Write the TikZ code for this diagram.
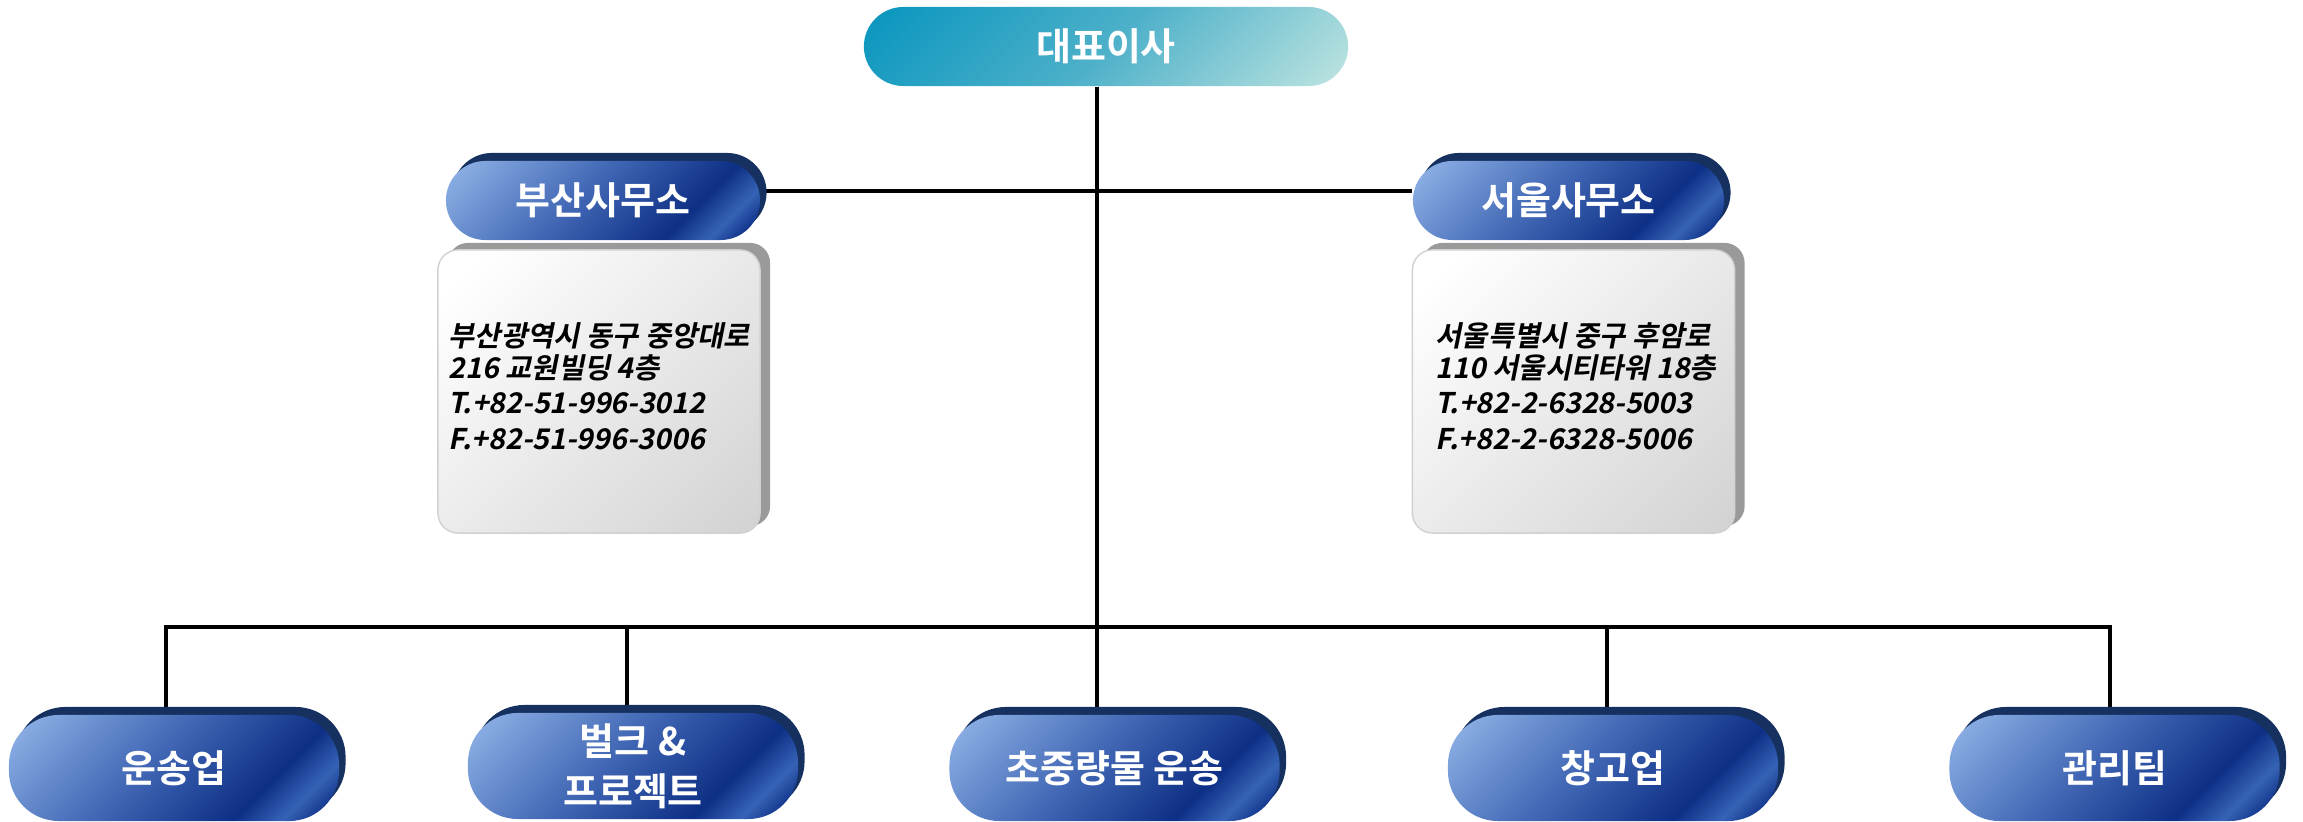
\documentclass[tikz,border=0pt]{standalone}
\usepackage{fontspec}
\newfontfamily\headfont{Noto Sans CJK KR Bold}
\newfontfamily\addrfont{Noto Sans CJK KR Bold}[FakeSlant=0.2]
\definecolor{topA}{HTML}{0E98BF}
\definecolor{topM}{HTML}{4DB0C9}
\definecolor{topB}{HTML}{C8E9E3}
\definecolor{btnA}{HTML}{8AAEE3}
\definecolor{btnB}{HTML}{4167B5}
\definecolor{btnC}{HTML}{0D2F85}
\definecolor{btnD}{HTML}{3663B5}
\definecolor{btnRim}{HTML}{16315F}
\definecolor{boxA}{HTML}{FFFFFF}
\definecolor{boxB}{HTML}{D2D2D2}
\definecolor{boxRim}{HTML}{9A9A9A}
\pgfdeclarehorizontalshading{topshade}{100bp}{color(0bp)=(topA); color(18bp)=(topA); color(50bp)=(topM); color(88bp)=(topB); color(100bp)=(topB)}
\pgfdeclarehorizontalshading{btnshade}{100bp}{color(0bp)=(btnA); color(18bp)=(btnA); color(45bp)=(btnB); color(68bp)=(btnC); color(76bp)=(btnD); color(82bp)=(btnC); color(100bp)=(btnC)}
\pgfdeclarehorizontalshading{boxshade}{100bp}{color(0bp)=(boxA); color(20bp)=(boxA); color(85bp)=(boxB); color(100bp)=(boxB)}
\pgfdeclarelayer{bg}
\pgfsetlayers{bg,main}
\tikzset{
  topnode/.style={rectangle, rounded corners=0.395cm, minimum width=4.84cm, minimum height=0.79cm,
    inner sep=0pt, shade, shading=topshade, shading angle=-45, text=white,
    font=\headfont\fontsize{10.8pt}{13pt}\selectfont},
  pillbtn/.style={rectangle, inner sep=0pt, shade, shading=btnshade, shading angle=-45, text=white,
    font=\headfont\fontsize{10.8pt}{14.2pt}\selectfont, align=center,
    preaction={fill=btnRim, transform canvas={xshift=0.065cm, yshift=0.08cm}}},
  offbtn/.style={pillbtn, rounded corners=0.395cm, minimum height=0.79cm},
  deptbtn/.style={pillbtn, rounded corners=0.5cm, minimum height=1.06cm, minimum width=3.3cm},
  addrbox/.style={rectangle, rounded corners=0.2cm, minimum width=3.22cm, minimum height=2.83cm,
    inner sep=0pt, shade, shading=boxshade, shading angle=-45, draw=black!18, line width=0.4pt,
    preaction={fill=boxRim, transform canvas={xshift=0.1cm, yshift=0.07cm}}},
  addrtext/.style={anchor=west, align=left, inner sep=0pt,
    font=\addrfont\fontsize{8.1pt}{9.1pt}\selectfont},
  conn/.style={line width=0.04cm, black}
}
\begin{document}
\begin{tikzpicture}[x=0.01cm,y=-0.01cm]
\useasboundingbox (0,0) rectangle (2303,822);
% top
\node[topnode] (ceo) at (1106,46.5) {대표이사};
% offices
\node[offbtn, minimum width=3.14cm] (busan) at (603,200.5) {부산사무소};
\node[offbtn, minimum width=3.11cm] (seoul) at (1568.5,200.5) {서울사무소};
\node[addrbox] (busanbox) at (599,391.5) {};
\node[addrbox] (seoulbox) at (1573.5,391.5) {};
\node[addrtext] (busantext) at (448,386) {부산광역시 동구 중앙대로\\216 교원빌딩 4층\\[0.9pt]T.+82-51-996-3012\\[1.1pt]F.+82-51-996-3006};
\node[addrtext] (seoultext) at (1435,386) {서울특별시 중구 후암로\\110 서울시티타워 18층\\[0.9pt]T.+82-2-6328-5003\\[1.1pt]F.+82-2-6328-5006};
% departments
\node[deptbtn] (b1) at (174,768) {운송업};
\node[deptbtn] (b2) at (633,766) {벌크 \&\\프로젝트};
\node[deptbtn] (b3) at (1114.5,768) {초중량물 운송};
\node[deptbtn] (b4) at (1613,768) {창고업};
\node[deptbtn] (b5) at (2114.5,768) {관리팀};
% junctions
\coordinate (hl) at (1097,191);
\coordinate (j1) at (166,627);
\coordinate (j2) at (627,627);
\coordinate (j3) at (1097,627);
\coordinate (j4) at (1607,627);
\coordinate (j5) at (2110,627);
\begin{pgfonlayer}{bg}
\draw[conn] (ceo.south -| j3) -- (b3.north -| j3);
\draw[conn] (busan.east |- hl) -- (seoul.west |- hl);
\draw[conn] (j1 |- b1.north) -- (j1) -- (j5) -- (j5 |- b5.north);
\draw[conn] (j2) -- (j2 |- b2.north);
\draw[conn] (j4) -- (j4 |- b4.north);
\end{pgfonlayer}
\end{tikzpicture}
\end{document}
